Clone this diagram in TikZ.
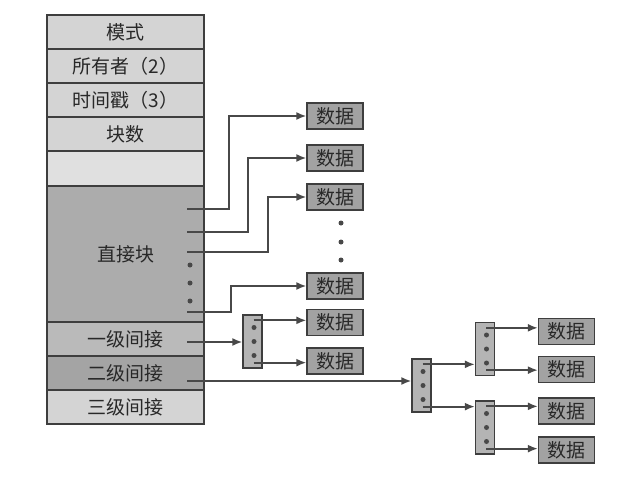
\documentclass[tikz,border=0pt]{standalone}
\usepackage{fontspec}
\setmainfont{Noto Sans CJK SC}
\usetikzlibrary{arrows.meta,positioning}
\definecolor{inodeline}{RGB}{62,62,62}
\definecolor{inodetext}{RGB}{40,40,40}
\definecolor{inodelight}{RGB}{212,212,212}
\definecolor{inodeblank}{RGB}{224,224,224}
\definecolor{inodedirect}{RGB}{172,172,172}
\definecolor{inodeone}{RGB}{186,186,186}
\definecolor{inodetwo}{RGB}{164,164,164}
\definecolor{datagray}{RGB}{162,162,162}
\definecolor{indexgray}{RGB}{180,180,180}
\definecolor{ptrgray}{RGB}{72,72,72}
\tikzset{
    inoderow/.style={draw=inodeline, line width=1.3pt, fill=inodelight,
        minimum width=157pt, minimum height=34pt, inner sep=0pt, outer sep=0pt,
        text=inodetext, font=\fontsize{19}{22}\selectfont},
    datablock/.style={draw=inodeline, line width=1.3pt, fill=datagray,
        minimum width=56pt, minimum height=26pt, inner sep=0pt,
        text=inodetext, font=\fontsize{19}{22}\selectfont},
    indexblock/.style={draw=inodeline, line width=1.3pt, fill=indexgray,
        minimum width=19pt, minimum height=53pt, inner sep=0pt},
    ptrdot/.style={circle, fill=ptrgray, inner sep=0pt, minimum size=5pt},
    ptrarrow/.style={-{Latex[length=10pt,width=8pt]}, line width=1.8pt, draw=ptrgray}
}

\begin{document}
\begin{tikzpicture}[x=1pt, y=-1pt]
    \useasboundingbox (0,0) rectangle (638,479);

    % i-node table
    \node[inoderow, anchor=north] (mode) at (125.5,15) {模式};
    \node[inoderow, below=0pt of mode] (owner) {所有者（2）};
    \node[inoderow, below=0pt of owner] (stamp) {时间戳（3）};
    \node[inoderow, below=0pt of stamp] (count) {块数};
    \node[inoderow, fill=inodeblank, minimum height=35pt, below=0pt of count] (spare) {};
    \node[inoderow, fill=inodedirect, minimum height=136pt, below=0pt of spare]
        (direct) {直接块\hspace{20pt}};
    \node[inoderow, fill=inodeone, below=0pt of direct] (single) {一级间接\hspace{10pt}};
    \node[inoderow, fill=inodetwo, below=0pt of single] (double) {二级间接\hspace{16pt}};
    \node[inoderow, below=0pt of double] (triple) {三级间接\hspace{16pt}};

    % pointer slots inside the table
    \coordinate (d1) at (187,209);
    \coordinate (d2) at (187,232);
    \coordinate (d3) at (187,252);
    \coordinate (d4) at (187,312);
    \coordinate (s1) at (187,342);
    \coordinate (s2) at (187,381);
    \node[ptrdot] (tdot1) at (190,265) {};
    \node[ptrdot] (tdot2) at (190,283) {};
    \node[ptrdot] (tdot3) at (190,301) {};

    % direct data blocks
    \node[datablock] (data1) at (335,116) {数据};
    \node[datablock] (data2) at (335,158) {数据};
    \node[datablock] (data3) at (335,197) {数据};
    \node[ptrdot] (cdot1) at (341,223) {};
    \node[ptrdot] (cdot2) at (341,242) {};
    \node[ptrdot] (cdot3) at (341,260) {};
    \node[datablock] (data4) at (335,286) {数据};

    % single indirect
    \node[indexblock] (idx1) at (252.5,341.5) {};
    \node[datablock] (data5) at (335,322.5) {数据};
    \node[datablock] (data6) at (335,361) {数据};

    % double indirect
    \node[indexblock] (idx2) at (421.5,385.5) {};
    \node[indexblock] (idx3) at (485,349) {};
    \node[indexblock] (idx4) at (485,427.5) {};
    \node[datablock] (data7) at (566.5,331.5) {数据};
    \node[datablock] (data8) at (566.5,369.5) {数据};
    \node[datablock] (data9) at (566.5,411) {数据};
    \node[datablock] (data10) at (566.5,450) {数据};

    % dots inside the index blocks
    \foreach \blk in {idx1,idx2,idx3,idx4} {
        \node[ptrdot] at ([xshift=1.5pt,yshift=14pt]\blk.center) {};
        \node[ptrdot] at ([xshift=1.5pt]\blk.center) {};
        \node[ptrdot] at ([xshift=1.5pt,yshift=-14pt]\blk.center) {};
    }
    \foreach \blk in {idx1,idx2,idx3,idx4} {
        \coordinate (\blk top) at ([xshift=1pt,yshift=-6pt]\blk.north);
        \coordinate (\blk bot) at ([xshift=1pt,yshift=6pt]\blk.south);
    }

    % direct pointers
    \draw[ptrarrow] (d1) -- ++(42,0) |- (data1);
    \draw[ptrarrow] (d2) -- ++(61,0) |- (data2);
    \draw[ptrarrow] (d3) -- ++(81,0) |- (data3);
    \draw[ptrarrow] (d4) -- ++(44,0) |- (data4);

    % indirect pointers
    \draw[ptrarrow] (s1) -- (s1 -| idx1.west);
    \draw[ptrarrow] (idx1top) -- (idx1top -| data5.west);
    \draw[ptrarrow] (idx1bot) -- (idx1bot -| data6.west);
    \draw[ptrarrow] (s2) -- (s2 -| idx2.west);
    \draw[ptrarrow] (idx2top) -- (idx2top -| idx3.west);
    \draw[ptrarrow] (idx2bot) -- (idx2bot -| idx4.west);
    \draw[ptrarrow] (idx3top) -- (idx3top -| data7.west);
    \draw[ptrarrow] (idx3bot) -- (idx3bot -| data8.west);
    \draw[ptrarrow] (idx4top) -- (idx4top -| data9.west);
    \draw[ptrarrow] (idx4bot) -- (idx4bot -| data10.west);
\end{tikzpicture}
\end{document}
